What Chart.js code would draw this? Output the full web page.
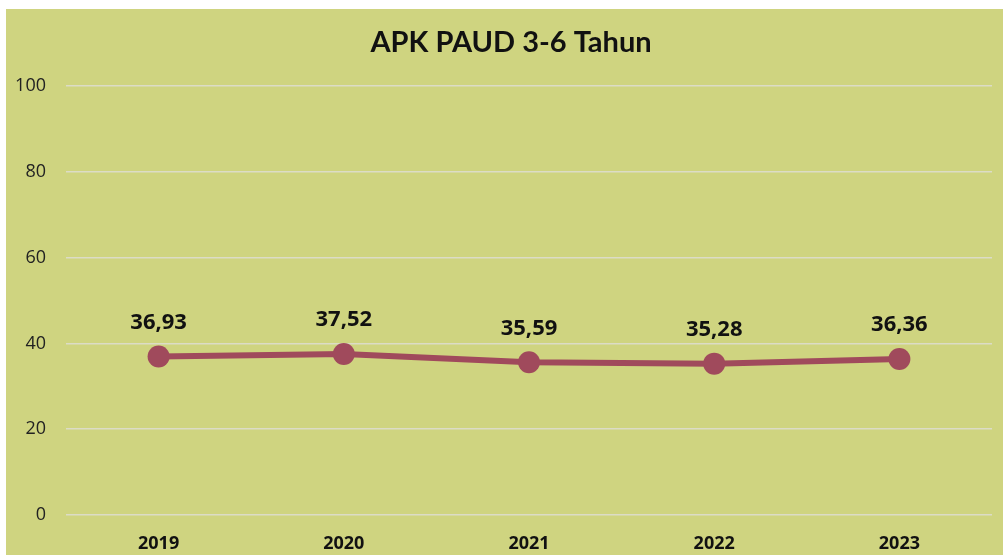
<!DOCTYPE html>
<html><head><meta charset="utf-8">
<script src="https://cdn.jsdelivr.net/npm/chart.js@4"></script>
<style>
html,body{margin:0;padding:0;background:#fff;width:1003px;height:555px;overflow:hidden}
#wrap{position:absolute;left:6px;top:9px;width:997px;height:546px;background:#cfd480}
</style></head><body>
<div id="wrap"><canvas id="c" width="997" height="546"></canvas></div>
<script>
const categories = ['2019','2020','2021','2022','2023'];
const values = [36.93, 37.52, 35.59, 35.28, 36.36];
const yTicks = [0, 20, 40, 60, 80, 100];
const titleText = 'APK PAUD 3-6 Tahun';

const labelPlugin = {
  id: 'valueLabels',
  afterDatasetsDraw(chart) {
    const ctx = chart.ctx;
    const meta = chart.getDatasetMeta(0);
    ctx.save();
    ctx.font = 'bold 22px "Open Sans", sans-serif';
    ctx.fillStyle = '#111';
    ctx.textAlign = 'center';
    ctx.textBaseline = 'middle';
    meta.data.forEach((pt, i) => {
      ctx.fillText(values[i].toFixed(2).replace('.', ','), pt.x, pt.y - 34);
    });
    // title, centred slightly right of canvas centre as in the reference
    ctx.font = 'bold 29px Lato, "Open Sans", sans-serif';
    ctx.fillText(titleText, 505, 34);
    ctx.restore();
  }
};

new Chart(document.getElementById('c'), {
  type: 'line',
  data: {
    labels: categories,
    datasets: [{
      data: values,
      borderColor: '#a04a5c',
      backgroundColor: '#a04a5c',
      borderWidth: 6,
      pointRadius: 11,
      pointHoverRadius: 11,
      pointBackgroundColor: '#a04a5c',
      pointBorderWidth: 0,
      tension: 0
    }]
  },
  options: {
    responsive: false,
    animation: false,
    layout: { padding: { left: 0, right: 11, top: 77, bottom: 0 } },
    plugins: {
      legend: { display: false },
      tooltip: { enabled: false },
      title: { display: false }
    },
    scales: {
      x: {
        offset: true,
        grid: { display: false, drawTicks: false },
        border: { display: false },
        ticks: { color: '#111', font: { family: '"Open Sans", sans-serif', size: 18, weight: 'bold' }, padding: 18 },
        afterFit(s) { s.height = 40; }
      },
      y: {
        min: 0, max: 100,
        afterBuildTicks(s) { s.ticks = yTicks.map(v => ({ value: v })); },
        grid: { color: '#dcdcc6', lineWidth: 1.5, drawTicks: false },
        border: { display: false },
        ticks: { color: '#222', font: { family: '"Open Sans", sans-serif', size: 18 }, padding: 20 },
        afterFit(s) { s.width = 60; }
      }
    }
  },
  plugins: [labelPlugin]
});
</script>
</body></html>
